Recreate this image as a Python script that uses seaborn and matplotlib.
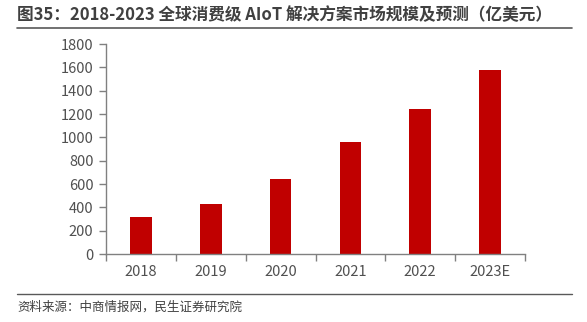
import matplotlib
matplotlib.use("Agg")
import matplotlib.pyplot as plt
import seaborn as sns
import pandas as pd
from matplotlib.lines import Line2D

years = ["2018", "2019", "2020", "2021", "2022", "2023E"]
values = [315, 430, 645, 960, 1240, 1580]
yticks = [0, 200, 400, 600, 800, 1000, 1200, 1400, 1600, 1800]
title = "图35：2018-2023 全球消费级 AIoT 解决方案市场规模及预测（亿美元）"
source = "资料来源：中商情报网，民生证券研究院"

sns.set_theme(style="white")
plt.rcParams['font.family'] = ['Noto Sans CJK SC', 'DejaVu Sans']

df = pd.DataFrame({"year": years, "value": values})

fig = plt.figure(figsize=(5.87, 3.22), dpi=100)
W, H = 587, 322
ax = fig.add_axes([106 / W, 1 - 254 / H, (525 - 106) / W, (254 - 44) / H])

sns.barplot(data=df, x="year", y="value", color="#C00000", width=0.31,
            saturation=1, ax=ax, edgecolor="none")

ax.set_xlim(-0.5, len(years) - 0.5)
ax.set_ylim(0, 1800)
ax.set_yticks(yticks)
ax.set_xlabel("")
ax.set_ylabel("")

gray = "#808080"
for s in ["top", "right"]:
    ax.spines[s].set_visible(False)
for s in ["left", "bottom"]:
    ax.spines[s].set_color(gray)
    ax.spines[s].set_linewidth(1.0)

ax.tick_params(axis="y", direction="out", length=5, width=1, color=gray,
               labelsize=10.5, labelcolor="#505050", pad=4, left=True)
ax.tick_params(axis="x", which="major", length=0, labelsize=10.5,
               labelcolor="#505050", pad=8, bottom=True)
ax.set_xticks([i - 0.5 for i in range(len(years) + 1)], minor=True)
ax.tick_params(axis="x", which="minor", direction="out", length=5, width=1,
               color=gray, bottom=True)

fig.text(17 / W, 1 - 15 / H, title, fontsize=12, fontweight="bold",
         color="#404040", va="center", ha="left")
fig.add_artist(Line2D([17 / W, 572 / W], [1 - 28 / H, 1 - 28 / H],
                      color="#595959", linewidth=1.2))
fig.add_artist(Line2D([17 / W, 572 / W], [1 - 294 / H, 1 - 294 / H],
                      color="#595959", linewidth=1.0))
fig.text(17 / W, 1 - 307 / H, source, fontsize=9, color="#404040",
         va="center", ha="left")

fig.savefig("out.png", dpi=100)
